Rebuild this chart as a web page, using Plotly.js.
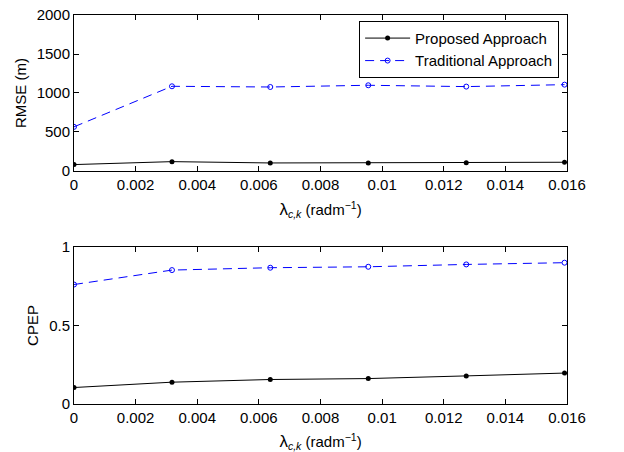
<!DOCTYPE html>
<html>
<head>
<meta charset="utf-8">
<script src="https://cdn.plot.ly/plotly-3.0.1.min.js"></script>
<style>html,body{margin:0;padding:0;background:#fff;}#chart{width:624px;height:452px;}</style>
</head>
<body>
<div id="chart"></div>
<script>
// Data
const lambda = [0, 0.00318, 0.00637, 0.00955, 0.01273, 0.01592];
const rmseProposed = [82, 120, 103, 103, 107, 112];
const rmseTraditional = [566, 1086, 1077, 1099, 1082, 1107];
const cpepProposed = [0.105, 0.139, 0.156, 0.162, 0.179, 0.197];
const cpepTraditional = [0.761, 0.853, 0.868, 0.874, 0.889, 0.900];
const xTicks = [0, 0.002, 0.004, 0.006, 0.008, 0.01, 0.012, 0.014, 0.016];
const xTickLabels = ['0', '0.002', '0.004', '0.006', '0.008', '0.01', '0.012', '0.014', '0.016'];
const rmseTicks = [0, 500, 1000, 1500, 2000];
const cpepTicks = [0, 0.5, 1];
const cpepTickLabels = ['0', '0.5', '1'];

const font = {family: 'Liberation Sans, Arial, Helvetica, sans-serif', size: 15, color: '#000'};
const propStyle = {line: {color: '#000', width: 1}, marker: {color: '#000', size: 5, symbol: 'circle'}};
const tradStyle = {line: {color: '#0000ff', width: 1, dash: '9px,6px'}, marker: {color: '#0000ff', size: 5, symbol: 'circle-open', line: {width: 1, color: '#0000ff'}}};

const traces = [
  Object.assign({x: lambda, y: rmseProposed, mode: 'lines+markers', name: 'Proposed Approach', xaxis: 'x', yaxis: 'y'}, propStyle),
  Object.assign({x: lambda, y: rmseTraditional, mode: 'lines+markers', name: 'Traditional Approach', xaxis: 'x', yaxis: 'y'}, tradStyle),
  Object.assign({x: lambda, y: cpepProposed, mode: 'lines+markers', name: 'Proposed Approach', xaxis: 'x2', yaxis: 'y2', showlegend: false}, propStyle),
  Object.assign({x: lambda, y: cpepTraditional, mode: 'lines+markers', name: 'Traditional Approach', xaxis: 'x2', yaxis: 'y2', showlegend: false}, tradStyle)
];

const axCommon = {
  showline: true, linecolor: '#000', linewidth: 1, mirror: 'ticks',
  ticks: 'inside', ticklen: 5, tickcolor: '#000', tickwidth: 1,
  showgrid: false, zeroline: false, tickfont: font
};
const xTitle = '<span style="font-size:17px">\u03bb</span><sub><i>c,k</i></sub> (radm<sup>\u22121</sup>)';

const layout = {
  width: 624, height: 452,
  margin: {l: 74, r: 57, t: 15, b: 48},
  paper_bgcolor: '#fff', plot_bgcolor: '#fff',
  font: font,
  showlegend: true,
  legend: {
    x: 0.984, y: 0.985, xanchor: 'right', yanchor: 'top',
    bgcolor: '#fff', bordercolor: '#000', borderwidth: 1,
    font: {family: font.family, size: 15, color: '#000'},
    itemwidth: 45,
    tracegroupgap: 0
  },
  xaxis: Object.assign({}, axCommon, {anchor: 'y', domain: [0, 1], range: [0, 0.016], tickvals: xTicks, ticktext: xTickLabels,
    title: {text: xTitle, font: font, standoff: 12}}),
  yaxis: Object.assign({}, axCommon, {anchor: 'x', domain: [0.599, 1], range: [0, 2000], tickvals: rmseTicks,
    title: {text: 'RMSE (m)', font: font, standoff: 6}}),
  xaxis2: Object.assign({}, axCommon, {anchor: 'y2', domain: [0, 1], range: [0, 0.016], tickvals: xTicks, ticktext: xTickLabels,
    title: {text: xTitle, font: font, standoff: 12}}),
  yaxis2: Object.assign({}, axCommon, {anchor: 'x2', domain: [0, 0.4036], range: [0, 1], tickvals: cpepTicks, ticktext: cpepTickLabels,
    title: {text: 'CPEP', font: font, standoff: 6}})
};

Plotly.newPlot('chart', traces, layout, {displayModeBar: false, staticPlot: true});
</script>
</body>
</html>
